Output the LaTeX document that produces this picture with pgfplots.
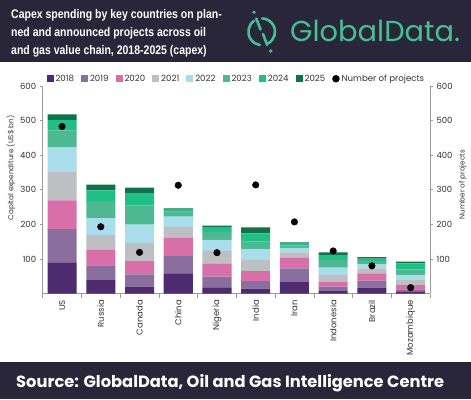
\documentclass[border=0pt]{standalone}
\usepackage{fontspec}
\setmainfont{Poppins}
\newfontfamily\headfont[FakeStretch=0.84]{Liberation Sans}
\usepackage{pgfplots}
\pgfplotsset{compat=1.18}
\usepackage{graphicx}
\definecolor{hdr}{HTML}{2A2639}
\definecolor{logo}{HTML}{45C095}
\definecolor{axisgrey}{HTML}{9A9A9A}
\definecolor{txt}{HTML}{333333}
\definecolor{cA}{HTML}{4E2A6E}
\definecolor{cB}{HTML}{8A6F9E}
\definecolor{cC}{HTML}{D96FA8}
\definecolor{cD}{HTML}{BDBFC3}
\definecolor{cE}{HTML}{A9DDEB}
\definecolor{cF}{HTML}{4DB891}
\definecolor{cG}{HTML}{21BF88}
\definecolor{cH}{HTML}{11704D}
\begin{document}
\begin{tikzpicture}[x=1pt,y=1pt]
\useasboundingbox (0,0) rectangle (471,399);
\fill[white] (0,0) rectangle (471,399);
% header
\fill[hdr] (0,337) rectangle (471,399);
\node[anchor=west, align=left, text=white, inner sep=0pt, font=\headfont\bfseries\fontsize{12.5}{18.3}\selectfont] at (11,365.7)
 {Capex spending by key countries on plan-\\ned and announced projects across oil\\and gas value chain, 2018-2025 (capex)};
% logo icon
\begin{scope}[draw=logo, line width=2.6pt, line cap=round]
\draw (261.7,367.3) ++(125:13.3) arc (125:262:13.3);
\draw (261.7,367.3) ++(-62:13.3) arc (-62:88:13.3);
\draw (256.3,380.5) -- (260.5,369.5);
\draw (263.0,365.0) -- (267.2,354.0);
\fill[logo] (254,386.7) circle (1.9);
\fill[logo] (270.7,348) circle (1.9);
\end{scope}
\node[anchor=base west, inner sep=0pt, text=logo] at (290,357) {\resizebox{170pt}{!}{GlobalData.}};
% footer
\fill[hdr] (0,0) rectangle (471,37);
\node[anchor=base west, inner sep=0pt, text=white] at (16,12) {\resizebox{428pt}{!}{\bfseries Source: GlobalData, Oil and Gas Intelligence Centre}};
\pgfplotsset{
  /pgf/number format/assume math mode=true,
}
\begin{axis}[
  at={(42.7pt,105.5pt)}, anchor=south west, scale only axis,
  width=387.3pt, height=207.5pt,
  xmin=-0.5, xmax=9.5, ymin=0, ymax=600,
  ybar stacked, bar width=0.75,
  axis x line*=bottom, axis y line*=left,
  axis line style={-, draw=axisgrey, line width=0.8pt},
  xtick={0,...,9},
  xticklabels={US,Russia,Canada,China,Nigeria,India,Iran,Indonesia,Brazil,Mozambique},
  major x tick style={draw=none},
  minor xtick={-0.5,0.5,...,9.5},
  minor x tick style={draw=axisgrey, line width=0.6pt},
  minor tick length=4pt,
  major tick length=3pt,
  tick align=outside,
  ytick={100,200,300,400,500,600},
  y tick style={draw=axisgrey, line width=0.6pt},
  x tick label style={rotate=90, anchor=east, font=\fontsize{8.5}{10}\selectfont, text=txt},
  y tick label style={font=\fontsize{8.5}{10}\selectfont, text=txt},
  ylabel={Capital expenditure (US\$ bn)},
  ylabel style={at={(axis description cs:-0.082,0.605)}, anchor=center, font=\fontsize{7.2}{9}\selectfont, text=txt},
  legend columns=9,
  legend style={at={(0.5,1.0)}, anchor=south, draw=none, fill=none, font=\fontsize{8.6}{10}\selectfont, text=txt,
    /tikz/every even column/.append style={column sep=5pt}, inner sep=1pt},
  legend image code/.code={\fill[#1] (0pt,-3.5pt) rectangle (7pt,3.5pt);},
]
\addplot[fill=cA, draw=none] coordinates {(0,90) (1,39) (2,20) (3,58) (4,18) (5,14) (6,33) (7,7) (8,17) (9,5)};
\addplot[fill=cB, draw=none] coordinates {(0,96) (1,42) (2,35) (3,50) (4,31) (5,22) (6,40) (7,13) (8,20) (9,7)};
\addplot[fill=cC, draw=none] coordinates {(0,83) (1,45) (2,40) (3,53) (4,37) (5,29) (6,30) (7,14) (8,21) (9,12)};
\addplot[fill=cD, draw=none] coordinates {(0,82) (1,43) (2,51) (3,32) (4,37) (5,32) (6,16) (7,20) (8,15) (9,15)};
\addplot[fill=cE, draw=none] coordinates {(0,72) (1,49) (2,53) (3,29) (4,32) (5,31) (6,13) (7,21) (8,12) (9,15)};
\addplot[fill=cF, draw=none] coordinates {(0,48) (1,49) (2,55) (3,15) (4,23) (5,22) (6,7) (7,22) (8,9) (9,16)};
\addplot[fill=cG, draw=none] coordinates {(0,30) (1,31) (2,35) (3,7) (4,14) (5,24) (6,7) (7,15) (8,7) (9,17)};
\addplot[fill=cH, draw=none] coordinates {(0,17) (1,17) (2,17) (3,2) (4,4) (5,17) (6,2) (7,7) (8,4) (9,5)};
\addlegendimage{legend image code/.code={\fill[black] (3.5pt,0pt) circle (3.5pt);}}
\legend{2018,2019,2020,2021,2022,2023,2024,2025,Number of projects}
\end{axis}
\begin{axis}[
  at={(42.7pt,105.5pt)}, anchor=south west, scale only axis,
  width=387.3pt, height=207.5pt,
  xmin=-0.5, xmax=9.5, ymin=0, ymax=600,
  axis x line=none, axis y line*=right,
  axis line style={-, draw=axisgrey, line width=0.8pt},
  ytick={100,200,300,400,500,600},
  major tick length=3pt, tick align=outside,
  y tick style={draw=axisgrey, line width=0.6pt},
  y tick label style={font=\fontsize{8.5}{10}\selectfont, text=txt},
  ylabel={Number of projects},
  ylabel style={at={(axis description cs:1.085,0.525)}, anchor=center, rotate=0, font=\fontsize{7.2}{9}\selectfont, text=txt},
]
\addplot[only marks, mark=*, mark size=3.3pt, black] coordinates {(0,483) (1,193) (2,119) (3,313) (4,118) (5,314) (6,207) (7,123) (8,80) (9,17)};
\end{axis}
\end{tikzpicture}
\end{document}
